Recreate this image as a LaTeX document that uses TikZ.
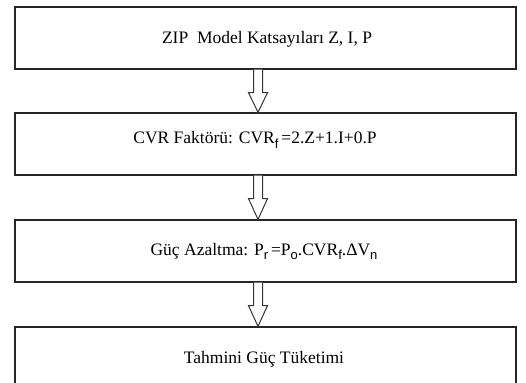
\documentclass[tikz,border=0pt]{standalone}
\usepackage{fontspec}
\setmainfont{Liberation Serif}
\setsansfont{Liberation Sans}
\usetikzlibrary{calc}
\newcommand{\sbs}[1]{\raisebox{-4.5pt}{\fontsize{13}{13}\selectfont\sffamily #1}}
\newcommand{\fatarrow}[2]{%
  \draw[flow] ($(#1.south)+(-12,0)$) -- ($(#1.south)+(-12,23)$) -- ($(#1.south)+(-17,23)$)
    -- ($(#2.north)+(-7.5,0)$) -- ($(#1.south)+(2,23)$) -- ($(#1.south)+(-3,23)$)
    -- ($(#1.south)+(-3,0)$);}
\begin{document}
\begin{tikzpicture}[x=1pt,y=-1pt,
  box/.style={draw=black!85, line width=1.3pt, minimum width=501pt, minimum height=62pt, inner sep=0pt},
  lbl/.style={font=\fontsize{17.5}{20}\selectfont, anchor=base, inner sep=0pt},
  flow/.style={draw=black!80, line width=1pt, fill=white, line join=miter}]
\useasboundingbox (0,0) rectangle (526,382);
\clip (0,0) rectangle (526,382);
\node[box] (b1) at (265.5,38) {};
\node[box] (b2) at (265.5,144) {};
\node[box] (b3) at (265.5,251) {};
\node[box, minimum height=60pt] (b4) at (265.5,357) {};
\fatarrow{b1}{b2}
\fatarrow{b2}{b3}
\fatarrow{b3}{b4}
\node[lbl] (t1) at (267,43.5) {ZIP\ \ Model Katsayıları Z, I, P};
\node[lbl] (t2) at (255,143.5) {CVR Faktörü: CVR\sbs{f}\,=2.Z+1.I+0.P};
\node[lbl] (t3) at (264,255) {Güç Azaltma: P\sbs{r}\,=P\sbs{o}.CVR\sbs{f}.ΔV\sbs{n}};
\node[lbl] (t4) at (264,363) {Tahmini Güç Tüketimi};
\end{tikzpicture}
\end{document}
